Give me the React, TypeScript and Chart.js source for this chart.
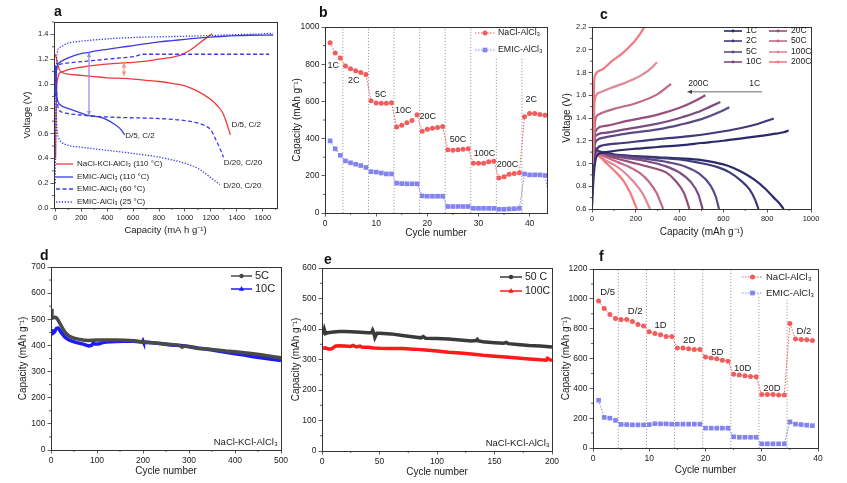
import React, { useEffect, useRef } from "react";
import { Chart, registerables } from "chart.js";
Chart.register(...registerables);

const FONT = 'Arial, "Liberation Sans", Helvetica, sans-serif';
Chart.defaults.font.family = FONT;

type XY = [number, number];

// ---------------- Panel a : voltage profiles ----------------
const A_X_TICKS = [0, 200, 400, 600, 800, 1000, 1200, 1400, 1600];
const A_Y_TICKS = [0, 0.2, 0.4, 0.6, 0.8, 1.0, 1.2, 1.4];
const A_NACL_CHG: XY[] = [[2,0.4],[5,0.7],[10,0.95],[20,1.05],[35,1.09],[60,1.1],[100,1.115],[200,1.135],[300,1.15],[400,1.16],[530,1.17],[600,1.175],[700,1.185],[800,1.2],[900,1.215],[960,1.23],[1000,1.25],[1050,1.28],[1100,1.32],[1150,1.36],[1210,1.405]];
const A_NACL_DIS: XY[] = [[0,1.24],[10,1.2],[30,1.12],[50,1.095],[100,1.08],[200,1.07],[300,1.06],[400,1.05],[530,1.045],[600,1.04],[700,1.03],[800,1.02],[900,1.005],[1000,0.985],[1050,0.965],[1100,0.94],[1150,0.91],[1200,0.875],[1250,0.825],[1290,0.77],[1320,0.69],[1350,0.59]];
const A_E110_CHG: XY[] = [[3,0.9],[8,1.1],[15,1.15],[30,1.17],[60,1.19],[100,1.21],[150,1.23],[200,1.245],[260,1.255],[300,1.265],[400,1.28],[500,1.295],[600,1.31],[700,1.325],[800,1.34],[900,1.35],[1000,1.36],[1100,1.37],[1200,1.378],[1300,1.385],[1400,1.39],[1500,1.393],[1680,1.395]];
const A_E110_DIS: XY[] = [[0,1.15],[5,1.05],[10,0.92],[20,0.86],[40,0.83],[80,0.81],[120,0.795],[200,0.765],[260,0.745],[300,0.74],[350,0.73],[400,0.71],[450,0.68],[500,0.64],[535,0.59]];
const A_E60_CHG: XY[] = [[5,0.9],[10,1.1],[20,1.15],[40,1.16],[100,1.17],[200,1.18],[300,1.19],[400,1.2],[500,1.21],[600,1.22],[640,1.23],[670,1.24],[1000,1.24],[1300,1.24],[1650,1.24]];
const A_E60_DIS: XY[] = [[5,1.1],[10,0.95],[20,0.82],[40,0.78],[80,0.765],[150,0.755],[300,0.74],[500,0.73],[700,0.725],[900,0.715],[1000,0.705],[1100,0.685],[1150,0.665],[1200,0.63],[1232,0.565],[1270,0.48],[1297,0.41]];
const A_E25_CHG: XY[] = [[0,0.2],[3,0.6],[8,1.1],[15,1.25],[30,1.29],[60,1.31],[100,1.33],[200,1.345],[350,1.36],[600,1.375],[1000,1.385],[1300,1.395],[1600,1.405],[1680,1.41]];
const A_E25_DIS: XY[] = [[0,1.1],[5,0.85],[12,0.65],[25,0.57],[50,0.53],[100,0.505],[200,0.49],[400,0.465],[600,0.44],[800,0.41],[1000,0.36],[1100,0.32],[1180,0.26],[1230,0.22],[1270,0.19]];
const A_GAP_NACL: XY[] = [[530, 1.065], [530, 1.17]];
const A_GAP_EMIC: XY[] = [[260, 0.745], [260, 1.255]];

// ---------------- Panel b : rate capability ----------------
const B_X_TICKS = [0, 10, 20, 30, 40];
const B_Y_TICKS = [0, 200, 400, 600, 800, 1000];
const B_NACL = [915,860,833,790,775,765,755,745,603,592,590,590,593,462,472,485,497,528,440,450,455,460,465,340,338,340,343,345,267,267,268,275,278,188,195,208,213,217,518,535,535,530,525];
const B_EMIC = [388,345,310,280,270,262,255,245,222,220,215,210,210,160,158,157,157,157,92,90,90,90,90,35,35,35,35,35,25,25,25,25,25,20,20,22,23,25,210,205,205,205,202,55];
const B_SEP_X = [3.5, 8.5, 13.5, 18.5, 23.5, 28.5, 33.5, 38.5];
const B_SEP_TOP = [1000, 1000, 1000, 1000, 1000, 1000, 830, 830];
const B_RATE_LABELS = ["1C", "2C", "5C", "10C", "20C", "50C", "100C", "200C", "2C"];
const B_RATE_X = [1.6, 5.6, 10.9, 15.3, 20.1, 26.0, 31.2, 35.7, 40.3];
const B_RATE_Y = [795, 714, 637, 553, 518, 396, 318, 260, 612];

// ---------------- Panel c : rate voltage profiles ----------------
const C_X_TICKS = [0, 200, 400, 600, 800, 1000];
const C_Y_TICKS = [0.6, 0.8, 1.0, 1.2, 1.4, 1.6, 1.8, 2.0, 2.2];
const C_RATES = ["1C", "2C", "5C", "10C", "20C", "50C", "100C", "200C"];
const C_CHG: XY[][] = [
  [[0,0.62],[8,0.9],[20,1.06],[40,1.09],[100,1.11],[200,1.13],[300,1.145],[400,1.16],[500,1.18],[600,1.2],[700,1.225],[780,1.245],[840,1.262],[875,1.275],[898,1.29]],
  [[0,0.7],[8,1.0],[20,1.12],[50,1.16],[143,1.18],[300,1.215],[447,1.24],[560,1.27],[676,1.31],[760,1.35],[830,1.395]],
  [[3,1.0],[8,1.12],[20,1.2],[60,1.23],[150,1.26],[300,1.3],[400,1.34],[500,1.39],[580,1.45],[627,1.495]],
  [[3,1.0],[8,1.13],[15,1.24],[60,1.27],[150,1.3],[300,1.35],[400,1.4],[480,1.45],[540,1.5],[586,1.54]],
  [[3,1.0],[8,1.14],[15,1.28],[60,1.33],[150,1.37],[300,1.43],[400,1.49],[470,1.55],[518,1.6]],
  [[3,1.0],[8,1.15],[15,1.38],[30,1.43],[100,1.48],[200,1.53],[300,1.61],[361,1.7]],
  [[3,1.0],[6,1.2],[12,1.55],[30,1.62],[80,1.66],[152,1.71],[220,1.77],[260,1.82],[297,1.89]],
  [[3,1.1],[6,1.3],[10,1.72],[15,1.78],[50,1.83],[91,1.9],[140,1.97],[183,2.05],[220,2.14],[245,2.22]],
];
const C_DIS: XY[][] = [
  [[5,1.16],[20,1.12],[50,1.1],[100,1.08],[200,1.065],[300,1.055],[400,1.045],[500,1.03],[560,1.01],[620,0.98],[680,0.93],[740,0.86],[790,0.78],[830,0.7],[860,0.64],[875,0.6]],
  [[5,1.15],[20,1.11],[50,1.09],[100,1.075],[200,1.06],[300,1.05],[400,1.035],[480,1.01],[570,0.97],[630,0.92],[680,0.85],[720,0.77],[745,0.68],[760,0.6]],
  [[5,1.15],[20,1.1],[60,1.08],[150,1.06],[250,1.04],[350,1.01],[430,0.97],[490,0.91],[540,0.81],[565,0.71],[580,0.6]],
  [[5,1.15],[20,1.1],[60,1.075],[150,1.05],[250,1.02],[330,0.98],[400,0.92],[450,0.84],[485,0.73],[505,0.6]],
  [[5,1.15],[20,1.1],[60,1.07],[120,1.04],[200,1.0],[280,0.96],[340,0.92],[380,0.85],[420,0.74],[445,0.6]],
  [[5,1.14],[20,1.1],[60,1.06],[120,1.01],[170,0.97],[219,0.915],[260,0.84],[295,0.74],[325,0.6]],
  [[0,1.35],[5,1.15],[20,1.09],[60,1.03],[100,0.99],[143,0.93],[190,0.84],[230,0.74],[265,0.6]],
  [[0,1.55],[4,1.2],[15,1.1],[40,1.05],[67,1.0],[100,0.94],[143,0.85],[175,0.74],[205,0.6]],
];
const C_ARROW: XY[] = [[776, 1.63], [436, 1.63]];

// ---------------- Panel d : cycling 5C / 10C ----------------
const D_X_TICKS = [0, 100, 200, 300, 400, 500];
const D_Y_TICKS = [0, 100, 200, 300, 400, 500, 600, 700];
const D_5C_CYC = [1,2,4,6,8,10,13,16,20,25,30,35,40,50,60,70,80,90,100,120,140,160,180,200,220,240,260,280,285,290,300,320,340,360,380,400,420,440,460,480,500];
const D_5C_CAP = [540,508,505,507,508,507,503,495,482,466,452,442,435,428,424,421,419,420,421,421,421,420,418,413,410,407,404,400,393,398,395,388,386,383,379,376,372,368,363,358,353];
const D_10C_CYC = [1,2,3,5,8,10,12,15,18,20,25,30,35,40,50,60,70,78,82,88,92,95,100,105,110,120,140,160,180,199,200,201,220,240,260,280,300,320,340,360,380,400,420,440,460,480,500];
const D_10C_CAP = [462,448,445,447,452,460,465,467,462,455,443,432,425,420,414,409,405,400,398,400,410,405,405,406,410,413,415,416,416,413,417,413,410,406,402,400,396,390,385,380,374,368,363,357,352,347,342];

// ---------------- Panel e : cycling 50C / 100C ----------------
const E_X_TICKS = [0, 50, 100, 150, 200];
const E_Y_TICKS = [0, 100, 200, 300, 400, 500, 600];
const E_50C_CYC = [1,2,3,5,10,15,20,30,40,43,44,45,46,47,48,50,60,70,80,86,88,90,100,110,120,130,134,135,136,140,150,158,160,162,170,180,190,200];
const E_50C_CAP = [382,398,385,388,390,392,392,390,388,388,396,388,372,380,386,386,384,379,374,371,375,370,369,367,364,361,362,366,361,358,355,353,356,352,349,346,344,341];
const E_100C_CYC = [1,3,5,7,9,10,12,15,20,25,27,30,33,35,40,45,50,60,70,80,90,100,110,120,130,140,150,160,170,180,190,195,196,200];
const E_100C_CAP = [337,338,335,334,336,340,344,345,344,343,346,341,344,340,340,338,337,336,336,334,331,328,324,321,318,314,311,308,305,302,299,298,304,296];

// ---------------- Panel f : D-rate capability ----------------
const F_X_TICKS = [0, 10, 20, 30, 40];
const F_Y_TICKS = [0, 200, 400, 600, 800, 1000, 1200];
const F_NACL = [985,935,895,868,862,862,848,828,818,780,768,760,748,748,670,670,665,660,660,610,604,598,588,582,495,490,485,480,478,358,358,358,355,355,835,730,728,725,720];
const F_EMIC = [320,205,200,185,158,157,155,155,155,157,163,162,162,160,160,160,160,160,160,133,133,133,133,133,75,72,72,72,72,28,28,28,28,28,175,160,157,153,150];
const F_SEP_X = [4.5, 9.5, 14.5, 19.5, 24.5, 29.5, 34.5];
const F_SEP_TOP = [1200, 1200, 1200, 1200, 1200, 1030, 990];
const F_RATE_LABELS = ["D/5", "D/2", "1D", "2D", "5D", "10D", "20D", "D/2"];
const F_RATE_X = [2.6, 7.5, 12.0, 17.1, 22.1, 26.6, 31.8, 37.5];
const F_RATE_Y = [1046, 916, 822, 722, 640, 535, 402, 784];

// ---------------- styles ----------------
const RED_A = "#f03a3a";
const BLUE_A = "#3a3ae6";
const RED_B = "#f25c5c";
const BLUE_B = "#8484f0";
const C_COLORS = ["#2a2a6a", "#3f3a7a", "#5c4a86", "#7a4c80", "#954f78", "#c06a88", "#e08898", "#f27a80"];

const pts = (a: XY[]) => a.map(([x, y]) => ({ x, y }));
const seq = (vals: number[]) => vals.map((y, i) => ({ x: i + 1, y }));
const zipXY = (xs: number[], ys: number[]) => xs.map((x, i) => ({ x, y: ys[i] }));

interface Axis { min: number; max: number; ticks: number[]; dec: number; title: string; }
interface LegendItem { dx: number; dy: number; label: string; color: string; dash?: number[]; lw?: number; point?: string; pr?: number; }
interface Overlay {
  vlines?: { x: number; top: number }[];
  texts?: { x: number; y: number; t: string; align?: CanvasTextAlign; size: number; color?: string }[];
  arrows?: { p1: XY; p2: XY; color: string; h1: boolean; h2: boolean; w: number }[];
  legend?: { size: number; lineLen: number; gap: number; items: LegendItem[] };
}
interface PanelSpec {
  letter: string; lx: number; ly: number;
  L: number; T: number; R: number; B: number;
  yTitleX: number; xTitleY: number;
  x: Axis; y: Axis; tickSize: number; titleSize: number;
  datasets: any[]; overlay: Overlay;
}

function minorValues(a: Axis): number[] {
  const step = a.ticks[1] - a.ticks[0];
  const out: number[] = [];
  for (let v = a.ticks[0] - step / 2; v <= a.max + 1e-9; v += step) {
    if (v >= a.min - 1e-9) out.push(v);
  }
  return out;
}

function drawPoint(ctx: CanvasRenderingContext2D, style: string, x: number, y: number, r: number, color: string) {
  ctx.fillStyle = color;
  ctx.beginPath();
  if (style === "rect") {
    const s = r * Math.SQRT1_2;
    ctx.rect(x - s, y - s, 2 * s, 2 * s);
  } else if (style === "triangle") {
    ctx.moveTo(x, y - r);
    ctx.lineTo(x + r * 0.9, y + r * 0.6);
    ctx.lineTo(x - r * 0.9, y + r * 0.6);
    ctx.closePath();
  } else {
    ctx.arc(x, y, r, 0, Math.PI * 2);
  }
  ctx.fill();
}

function arrowHead(ctx: CanvasRenderingContext2D, x: number, y: number, ang: number, size: number) {
  ctx.beginPath();
  ctx.moveTo(x, y);
  ctx.lineTo(x - size * Math.cos(ang - 0.45), y - size * Math.sin(ang - 0.45));
  ctx.lineTo(x - size * Math.cos(ang + 0.45), y - size * Math.sin(ang + 0.45));
  ctx.closePath();
  ctx.fill();
}

function overlayPlugin(spec: Overlay, xa: Axis, ya: Axis) {
  const xMinor = minorValues(xa);
  const yMinor = minorValues(ya);
  return {
    id: "overlay",
    beforeDatasetsDraw(chart: any) {
      const { ctx, chartArea: ca, scales } = chart;
      if (!spec.vlines) return;
      ctx.save();
      ctx.strokeStyle = "#8a8a8a";
      ctx.lineWidth = 0.8;
      ctx.setLineDash([1.2, 1.8]);
      for (const v of spec.vlines) {
        const x = scales.x.getPixelForValue(v.x);
        const yt = Math.max(ca.top, scales.y.getPixelForValue(v.top));
        ctx.beginPath();
        ctx.moveTo(x, ca.bottom);
        ctx.lineTo(x, yt);
        ctx.stroke();
      }
      ctx.restore();
    },
    afterDraw(chart: any) {
      const { ctx, chartArea: ca, scales } = chart;
      const X = (v: number) => scales.x.getPixelForValue(v);
      const Y = (v: number) => scales.y.getPixelForValue(v);
      ctx.save();
      ctx.setLineDash([]);
      ctx.strokeStyle = "#333";
      ctx.lineWidth = 0.8;
      ctx.beginPath();
      for (const v of xMinor) {
        const x = X(v);
        ctx.moveTo(x, ca.bottom);
        ctx.lineTo(x, ca.bottom + 2);
      }
      for (const v of yMinor) {
        const y = Y(v);
        ctx.moveTo(ca.left, y);
        ctx.lineTo(ca.left - 2, y);
      }
      ctx.stroke();
      ctx.lineWidth = 1;
      const l = Math.round(ca.left) + 0.5, t = Math.round(ca.top) + 0.5;
      ctx.strokeRect(l, t, Math.round(ca.right) - Math.round(ca.left), Math.round(ca.bottom) - Math.round(ca.top));
      for (const a of spec.arrows || []) {
        const x1 = X(a.p1[0]), y1 = Y(a.p1[1]), x2 = X(a.p2[0]), y2 = Y(a.p2[1]);
        ctx.strokeStyle = a.color;
        ctx.fillStyle = a.color;
        ctx.lineWidth = a.w;
        ctx.beginPath();
        ctx.moveTo(x1, y1);
        ctx.lineTo(x2, y2);
        ctx.stroke();
        const ang = Math.atan2(y2 - y1, x2 - x1);
        if (a.h2) arrowHead(ctx, x2, y2, ang, 5);
        if (a.h1) arrowHead(ctx, x1, y1, ang + Math.PI, 5);
      }
      ctx.textBaseline = "middle";
      for (const tx of spec.texts || []) {
        ctx.font = `${tx.size}px ${FONT}`;
        ctx.fillStyle = tx.color || "#1a1a1a";
        ctx.textAlign = tx.align || "center";
        ctx.fillText(tx.t, X(tx.x), Y(tx.y));
      }
      const lg = spec.legend;
      if (lg) {
        for (const it of lg.items) {
          const x0 = ca.left + it.dx, y0 = ca.top + it.dy;
          ctx.strokeStyle = it.color;
          ctx.lineWidth = it.lw || 1.2;
          ctx.setLineDash(it.dash || []);
          ctx.beginPath();
          ctx.moveTo(x0, y0);
          ctx.lineTo(x0 + lg.lineLen, y0);
          ctx.stroke();
          ctx.setLineDash([]);
          if (it.point) drawPoint(ctx, it.point, x0 + lg.lineLen / 2, y0, it.pr || 2.4, it.color);
          ctx.fillStyle = "#1a1a1a";
          ctx.font = `${lg.size}px ${FONT}`;
          ctx.textAlign = "left";
          ctx.fillText(it.label, x0 + lg.lineLen + lg.gap, y0);
        }
      }
      ctx.restore();
    },
  };
}

function makeAxis(a: Axis, isX: boolean, size: number, tickSize: number, titleSize: number) {
  return {
    type: "linear",
    position: isX ? "bottom" : "left",
    min: a.min,
    max: a.max,
    afterBuildTicks: (s: any) => { s.ticks = a.ticks.map((v) => ({ value: v })); },
    afterFit: (s: any) => { if (isX) s.height = size; else s.width = size; },
    ticks: {
      callback: (v: any) => Number(v).toFixed(a.dec),
      font: { family: FONT, size: tickSize },
      color: "#222",
      padding: 2,
      autoSkip: false,
      maxRotation: 0,
      minRotation: 0,
    },
    grid: { drawOnChartArea: false, drawTicks: true, tickLength: 3.5, color: "#333", lineWidth: 0.8 },
    border: { display: false },
    title: { display: true, text: a.title, font: { family: FONT, size: titleSize }, color: "#1a1a1a", padding: 0 },
  };
}

function Panel({ spec }: { spec: PanelSpec }) {
  const ref = useRef<HTMLCanvasElement>(null);
  const half = spec.titleSize * 0.6;
  const cl = Math.round(spec.yTitleX - half);
  const ct = spec.T - 10;
  const cr = spec.R + 14;
  const cb = Math.round(spec.xTitleY + half);
  const w = cr - cl, h = cb - ct;
  useEffect(() => {
    const chart = new Chart(ref.current as HTMLCanvasElement, {
      type: "line",
      data: { datasets: spec.datasets },
      options: {
        responsive: false,
        animation: false,
        events: [],
        layout: { padding: { left: 0, top: spec.T - ct, right: cr - spec.R, bottom: 0 } },
        plugins: { legend: { display: false }, tooltip: { enabled: false }, title: { display: false } },
        scales: {
          x: makeAxis(spec.x, true, cb - spec.B, spec.tickSize, spec.titleSize),
          y: makeAxis(spec.y, false, spec.L - cl, spec.tickSize, spec.titleSize),
        },
      } as any,
      plugins: [overlayPlugin(spec.overlay, spec.x, spec.y)],
    });
    return () => chart.destroy();
  }, []);
  return (
    <>
      <canvas ref={ref} width={w} height={h} style={{ position: "absolute", left: cl, top: ct, width: w, height: h }} />
      <div style={{ position: "absolute", left: spec.lx - 4, top: spec.ly - 9, font: `bold 14px ${FONT}`, color: "#111", lineHeight: "16px" }}>{spec.letter}</div>
    </>
  );
}

const smooth = { cubicInterpolationMode: "monotone", pointRadius: 0, fill: false };

const lineA = (d: XY[], color: string, dash: number[] = []) => ({ data: pts(d), borderColor: color, borderWidth: 1.3, borderDash: dash, ...smooth });

const panelA: PanelSpec = {
  letter: "a", lx: 58, ly: 12,
  L: 54, T: 22, R: 277, B: 208, yTitleX: 28, xTitleY: 230,
  x: { min: -10, max: 1710, ticks: A_X_TICKS, dec: 0, title: "Capacity (mA h g⁻¹)" },
  y: { min: 0, max: 1.5, ticks: A_Y_TICKS, dec: 1, title: "Voltage (V)" },
  tickSize: 7.5, titleSize: 9.5,
  datasets: [
    lineA(A_E25_CHG, BLUE_A, [1.3, 1.6]),
    lineA(A_E25_DIS, BLUE_A, [1.3, 1.6]),
    lineA(A_E60_CHG, BLUE_A, [4, 2.5]),
    lineA(A_E60_DIS, BLUE_A, [4, 2.5]),
    lineA(A_E110_CHG, BLUE_A),
    lineA(A_E110_DIS, BLUE_A),
    lineA(A_NACL_CHG, RED_A),
    lineA(A_NACL_DIS, RED_A),
  ],
  overlay: {
    arrows: [
      { p1: A_GAP_NACL[0], p2: A_GAP_NACL[1], color: "#ff8a8a", h1: true, h2: true, w: 1 },
      { p1: A_GAP_EMIC[0], p2: A_GAP_EMIC[1], color: "#9090f2", h1: true, h2: true, w: 1.3 },
    ],
    texts: [
      { x: 1360, y: 0.67, t: "D/5, C/2", align: "left", size: 8 },
      { x: 540, y: 0.585, t: "D/5, C/2", align: "left", size: 8 },
      { x: 1300, y: 0.365, t: "D/20, C/20", align: "left", size: 8 },
      { x: 1295, y: 0.18, t: "D/20, C/20", align: "left", size: 8 },
    ],
    legend: {
      size: 8, lineLen: 17, gap: 4,
      items: [
        { dx: 2, dy: 142, label: "NaCl-KCl-AlCl₃ (110 °C)", color: RED_A, lw: 1.3 },
        { dx: 2, dy: 155, label: "EMIC-AlCl₃ (110 °C)", color: BLUE_A, lw: 1.3 },
        { dx: 2, dy: 167, label: "EMIC-AlCl₃ (60 °C)", color: BLUE_A, lw: 1.3, dash: [4, 2.5] },
        { dx: 2, dy: 180, label: "EMIC-AlCl₃ (25 °C)", color: BLUE_A, lw: 1.3, dash: [1.3, 1.6] },
      ],
    },
  },
};

const markerSeries = (vals: number[], color: string, style: string, r: number) => ({
  data: seq(vals), borderColor: color, borderWidth: 1, borderDash: [1.5, 1.5],
  pointStyle: style, pointRadius: r, pointBackgroundColor: color, pointBorderWidth: 0, fill: false,
});

const panelB: PanelSpec = {
  letter: "b", lx: 323, ly: 13,
  L: 325, T: 27, R: 547, B: 213, yTitleX: 297, xTitleY: 233,
  x: { min: 0, max: 43.4, ticks: B_X_TICKS, dec: 0, title: "Cycle number" },
  y: { min: 0, max: 1000, ticks: B_Y_TICKS, dec: 0, title: "Capacity (mAh g⁻¹)" },
  tickSize: 8.5, titleSize: 10,
  datasets: [markerSeries(B_EMIC, BLUE_B, "rect", 3.3), markerSeries(B_NACL, RED_B, "circle", 2.5)],
  overlay: {
    vlines: B_SEP_X.map((x, i) => ({ x, top: B_SEP_TOP[i] })),
    texts: B_RATE_LABELS.map((t, i) => ({ x: B_RATE_X[i], y: B_RATE_Y[i], t, size: 9 })),
    legend: {
      size: 8.8, lineLen: 20, gap: 3,
      items: [
        { dx: 150, dy: 6, label: "NaCl-AlCl₃", color: RED_B, dash: [1.5, 1.5], lw: 1, point: "circle", pr: 2.5 },
        { dx: 150, dy: 23, label: "EMIC-AlCl₃", color: BLUE_B, dash: [1.5, 1.5], lw: 1, point: "rect", pr: 3.3 },
      ],
    },
  },
};

const cLine = (d: XY[], color: string) => ({ data: pts(d), borderColor: color, borderWidth: 2.2, ...smooth });
const panelC: PanelSpec = {
  letter: "c", lx: 604, ly: 15,
  L: 592, T: 27, R: 811, B: 209, yTitleX: 567, xTitleY: 232,
  x: { min: 0, max: 1000, ticks: C_X_TICKS, dec: 0, title: "Capacity (mAh g⁻¹)" },
  y: { min: 0.6, max: 2.2, ticks: C_Y_TICKS, dec: 1, title: "Voltage (V)" },
  tickSize: 7.5, titleSize: 10,
  datasets: [
    ...C_CHG.map((d, i) => cLine(d, C_COLORS[i])).reverse(),
    ...C_DIS.map((d, i) => cLine(d, C_COLORS[i])).reverse(),
  ],
  overlay: {
    arrows: [{ p1: C_ARROW[0], p2: C_ARROW[1], color: "#444", h1: false, h2: true, w: 0.8 }],
    texts: [
      { x: 440, y: 1.70, t: "200C", align: "left", size: 8.5 },
      { x: 768, y: 1.70, t: "1C", align: "right", size: 8.5 },
    ],
    legend: {
      size: 8.5, lineLen: 18, gap: 4,
      items: C_RATES.map((label, i) => ({
        dx: i < 4 ? 132 : 177, dy: [4, 14, 25, 35][i % 4], label, color: C_COLORS[i], lw: 1.6, point: "circle", pr: 1.4,
      })),
    },
  },
};

const thick = (xs: number[], ys: number[], color: string) => ({
  data: zipXY(xs, ys), borderColor: color, borderWidth: 3.5, pointRadius: 0, fill: false,
});

const panelD: PanelSpec = {
  letter: "d", lx: 44, ly: 256,
  L: 51, T: 267, R: 281, B: 450, yTitleX: 23, xTitleY: 471,
  x: { min: 0, max: 500, ticks: D_X_TICKS, dec: 0, title: "Cycle number" },
  y: { min: 0, max: 700, ticks: D_Y_TICKS, dec: 0, title: "Capacity (mAh g⁻¹)" },
  tickSize: 8.5, titleSize: 10,
  datasets: [thick(D_5C_CYC, D_5C_CAP, "#4a4a4a"), thick(D_10C_CYC, D_10C_CAP, "#1c1cf5")],
  overlay: {
    texts: [{ x: 493, y: 30, t: "NaCl-KCl-AlCl₃", align: "right", size: 9.5 }],
    legend: {
      size: 11, lineLen: 21, gap: 3,
      items: [
        { dx: 180, dy: 9, label: "5C", color: "#4a4a4a", lw: 1.5, point: "circle", pr: 2.2 },
        { dx: 180, dy: 22, label: "10C", color: "#1c1cf5", lw: 1.5, point: "triangle", pr: 3 },
      ],
    },
  },
};

const panelE: PanelSpec = {
  letter: "e", lx: 328, ly: 260,
  L: 322, T: 268, R: 552, B: 451, yTitleX: 296, xTitleY: 472,
  x: { min: 0, max: 200, ticks: E_X_TICKS, dec: 0, title: "Cycle number" },
  y: { min: 0, max: 600, ticks: E_Y_TICKS, dec: 0, title: "Capacity (mAh g⁻¹)" },
  tickSize: 8.5, titleSize: 10,
  datasets: [thick(E_50C_CYC, E_50C_CAP, "#3a3a3a"), thick(E_100C_CYC, E_100C_CAP, "#ff1a1a")],
  overlay: {
    texts: [{ x: 198, y: 26, t: "NaCl-KCl-AlCl₃", align: "right", size: 9.5 }],
    legend: {
      size: 10.5, lineLen: 22, gap: 3,
      items: [
        { dx: 178, dy: 9, label: "50 C", color: "#3a3a3a", lw: 1.5, point: "circle", pr: 2.2 },
        { dx: 178, dy: 23, label: "100C", color: "#ff1a1a", lw: 1.5, point: "triangle", pr: 3 },
      ],
    },
  },
};

const panelF: PanelSpec = {
  letter: "f", lx: 603, ly: 257,
  L: 593, T: 269, R: 818, B: 448, yTitleX: 566, xTitleY: 470,
  x: { min: 0, max: 40, ticks: F_X_TICKS, dec: 0, title: "Cycle number" },
  y: { min: 0, max: 1200, ticks: F_Y_TICKS, dec: 0, title: "Capacity (mAh g⁻¹)" },
  tickSize: 8.5, titleSize: 10,
  datasets: [markerSeries(F_EMIC, BLUE_B, "rect", 3.3), markerSeries(F_NACL, RED_B, "circle", 2.5)],
  overlay: {
    vlines: F_SEP_X.map((x, i) => ({ x, top: F_SEP_TOP[i] })),
    texts: F_RATE_LABELS.map((t, i) => ({ x: F_RATE_X[i], y: F_RATE_Y[i], t, size: 9.5 })),
    legend: {
      size: 9.5, lineLen: 21, gap: 3,
      items: [
        { dx: 149, dy: 8, label: "NaCl-AlCl₃", color: RED_B, dash: [1.5, 1.5], lw: 1, point: "circle", pr: 2.5 },
        { dx: 149, dy: 24, label: "EMIC-AlCl₃", color: BLUE_B, dash: [1.5, 1.5], lw: 1, point: "rect", pr: 3.3 },
      ],
    },
  },
};

const PANELS = [panelA, panelB, panelC, panelD, panelE, panelF];

export default function App() {
  useEffect(() => {
    document.body.style.margin = "0";
  }, []);
  return (
    <div style={{ position: "relative", width: 847, height: 483, background: "#fff", overflow: "hidden" }}>
      {PANELS.map((p) => (
        <Panel key={p.letter} spec={p} />
      ))}
    </div>
  );
}
